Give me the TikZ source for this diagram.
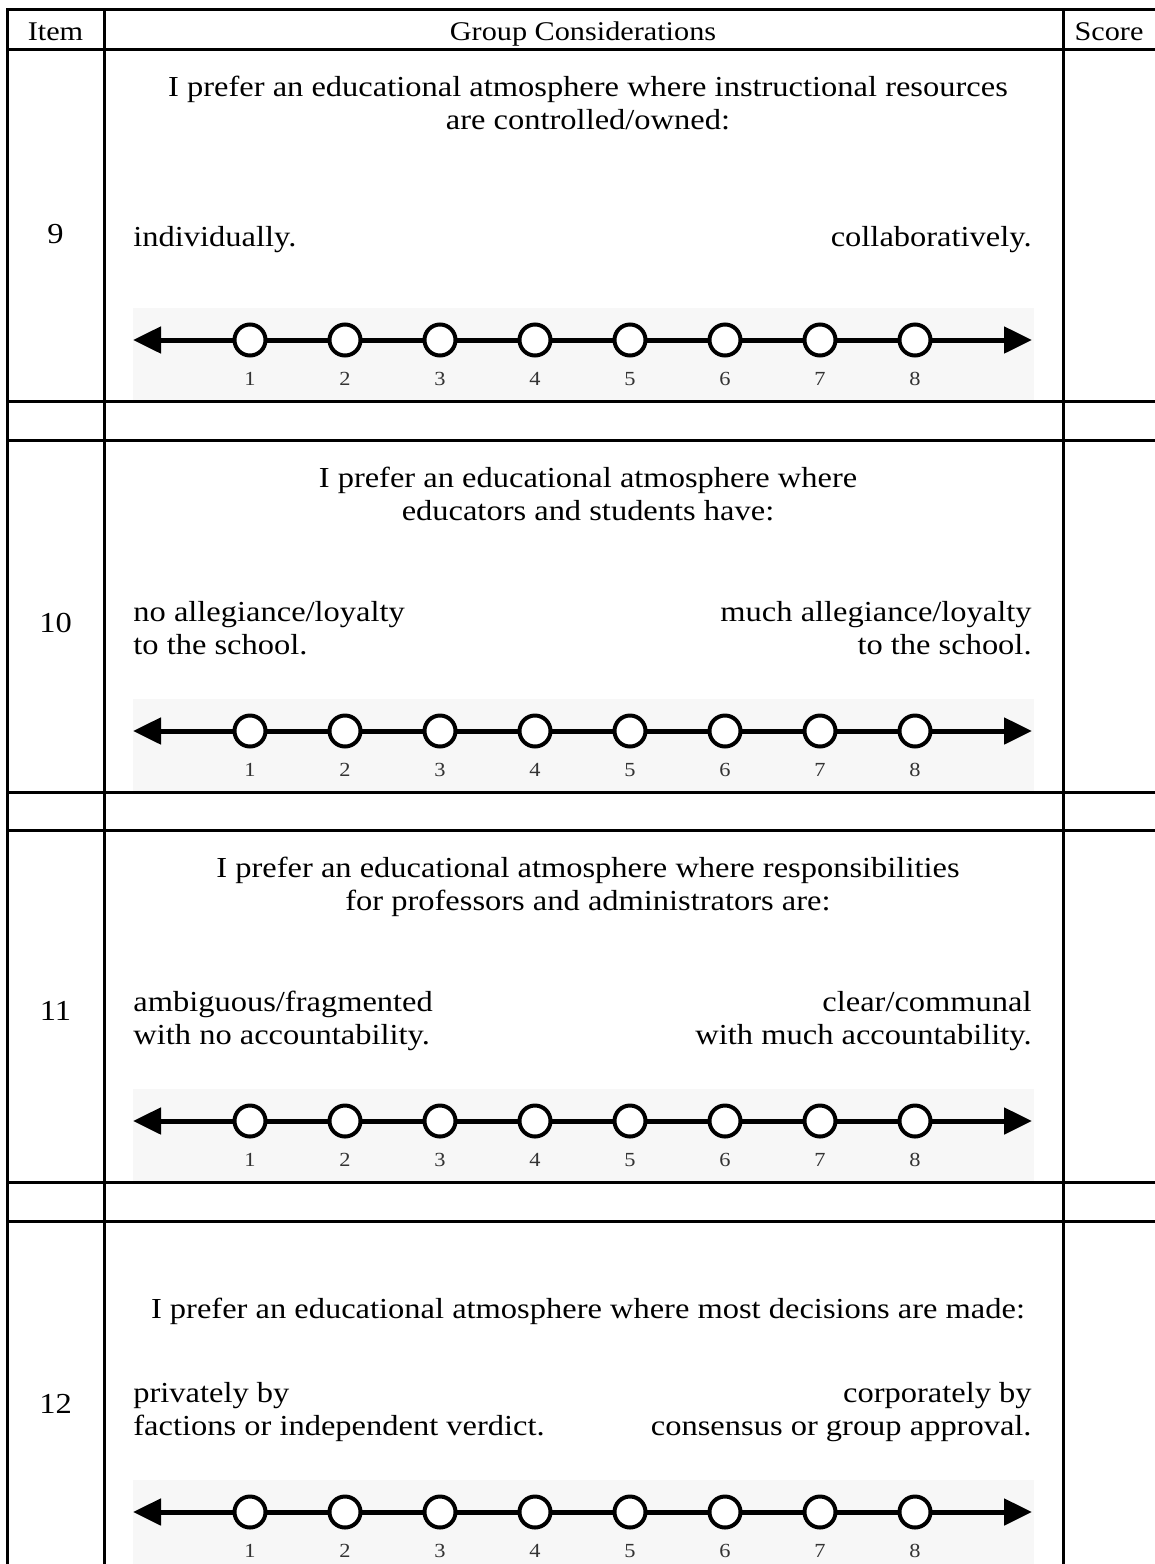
\documentclass[tikz,border=0pt]{standalone}
\usepackage{fontspec}
\setmainfont{Liberation Serif}[FakeStretch=1.12]
\usetikzlibrary{arrows.meta}

% One rating scale: gray panel, double arrow, eight open dots and their numbers.
% #1 = top of the table row, #2 = prefix for the names of its parts
\newcommand{\ratingline}[2]{%
  \fill[panel] (133,#1+259) rectangle (1034,#1+351);
  \coordinate (#2L) at (133,#1+291);
  \coordinate (#2R) at (1032,#1+291);
  \draw[axis] (#2L) -- (#2R);
  \foreach \k in {1,...,8} {
    \node[dot] (#2c\k) at ({250+95*(\k-1)},#1+291) {};
    \node[tick] (#2n\k) at ({250+95*(\k-1)},#1+336) {\k};
  }%
}

\begin{document}
\begin{tikzpicture}[x=0.5pt,y=-0.5pt,
  rule/.style={line width=1.5pt, line cap=rect},
  body/.style={font=\fontsize{14.5pt}{16.5pt}\selectfont, inner sep=0pt},
  head/.style={font=\fontsize{13.5pt}{15pt}\selectfont, inner sep=0pt, anchor=base},
  lft/.style={body, anchor=base west},
  rgt/.style={body, anchor=base east},
  mid/.style={body, anchor=base},
  panel/.style={fill=black!3},
  axis/.style={line width=2.5pt, {Triangle[length=14pt,width=13pt]}-{Triangle[length=14pt,width=13pt]}},
  dot/.style={circle, draw, line width=2pt, fill=white, minimum size=15.5pt, inner sep=0pt},
  tick/.style={font=\fontsize{10pt}{11pt}\selectfont, text=black!80, inner sep=0pt, anchor=base},
]
\useasboundingbox (0,0) rectangle (1155,1564);

% table rules
\foreach \y in {9,49,401,440,792,830,1182,1221}
  \draw[rule] (7,\y) -- (1155,\y);
\foreach \x in {7,104,1063}
  \draw[rule] (\x,9) -- (\x,1564);

% header
\node[head] (hItem) at (55.5,40) {Item};
\node[head] (hGroup) at (583,40) {Group Considerations};
\node[head] (hScore) at (1109,40) {Score};

% item 9 (row top 49)
\node[mid] (q9a) at (588,96) {I prefer an educational atmosphere where instructional resources};
\node[mid] (q9b) at (588,129) {are controlled/owned:};
\node[mid] (n9) at (55.5,243) {9};
\node[lft] (l9) at (133,246) {individually.};
\node[rgt] (r9) at (1032,246) {collaboratively.};
\ratingline{49}{s9}

% item 10 (row top 440)
\node[mid] (q10a) at (588,487) {I prefer an educational atmosphere where};
\node[mid] (q10b) at (588,520) {educators and students have:};
\node[mid] (n10) at (55.5,632) {10};
\node[lft] (l10a) at (133,621) {no allegiance/loyalty};
\node[lft] (l10b) at (133,654) {to the school.};
\node[rgt] (r10a) at (1032,621) {much allegiance/loyalty};
\node[rgt] (r10b) at (1032,654) {to the school.};
\ratingline{440}{s10}

% item 11 (row top 830)
\node[mid] (q11a) at (588,877) {I prefer an educational atmosphere where responsibilities};
\node[mid] (q11b) at (588,910) {for professors and administrators are:};
\node[mid] (n11) at (55.5,1020) {11};
\node[lft] (l11a) at (133,1011) {ambiguous/fragmented};
\node[lft] (l11b) at (133,1044) {with no accountability.};
\node[rgt] (r11a) at (1032,1011) {clear/communal};
\node[rgt] (r11b) at (1032,1044) {with much accountability.};
\ratingline{830}{s11}

% item 12 (row top 1221)
\node[mid] (q12a) at (588,1318) {I prefer an educational atmosphere where most decisions are made:};
\node[mid] (n12) at (55.5,1413) {12};
\node[lft] (l12a) at (133,1402) {privately by};
\node[lft] (l12b) at (133,1435) {factions or independent verdict.};
\node[rgt] (r12a) at (1032,1402) {corporately by};
\node[rgt] (r12b) at (1032,1435) {consensus or group approval.};
\ratingline{1221}{s12}
\end{tikzpicture}
\end{document}
